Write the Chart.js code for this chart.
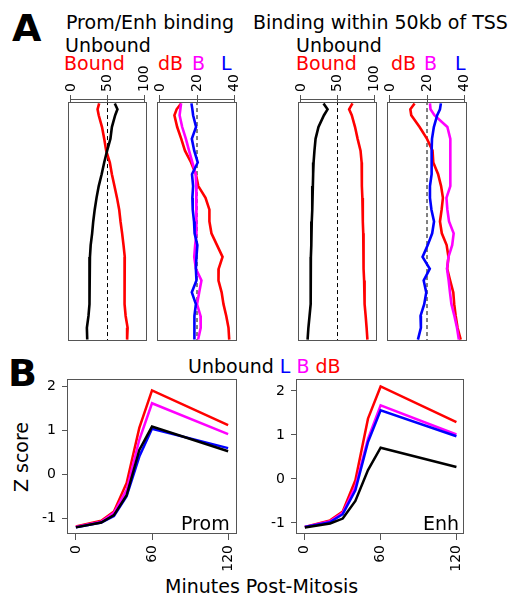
<!DOCTYPE html>
<html><head><meta charset="utf-8">
<script src="https://cdn.jsdelivr.net/npm/chart.js@4/dist/chart.umd.min.js"></script>
<style>
body{margin:0;background:#fff;width:512px;height:596px;position:relative;overflow:hidden;font-family:'DejaVu Sans',sans-serif;}
canvas{position:absolute;}
.t{position:absolute;font-size:19px;line-height:19px;white-space:nowrap;color:#000;}
.big{position:absolute;font-size:38px;line-height:38px;font-weight:bold;color:#000;}
.r{color:#ff0000}.m{color:#ff00ff}.b{color:#0000ff}
</style></head><body>
<div class="big" style="left:12px;top:9px">A</div>
<div class="t" style="left:66px;top:13px">Prom/Enh binding</div>
<div class="t" style="left:253px;top:13px">Binding within 50kb of TSS</div>
<div class="t" style="left:65px;top:36px">Unbound</div>
<div class="t r" style="left:64px;top:54px">Bound</div>
<div class="t r" style="left:158px;top:54px">dB</div>
<div class="t m" style="left:192px;top:54px">B</div>
<div class="t b" style="left:221px;top:54px">L</div>
<div class="t" style="left:296px;top:36px">Unbound</div>
<div class="t r" style="left:296px;top:54px">Bound</div>
<div class="t r" style="left:391px;top:54px">dB</div>
<div class="t m" style="left:424px;top:54px">B</div>
<div class="t b" style="left:455px;top:54px">L</div>
<div class="big" style="left:8px;top:354px">B</div>
<div class="t" style="left:188px;top:357px">Unbound <span class="b">L</span> <span class="m">B</span> <span class="r">dB</span></div>
<div class="t" style="left:21px;top:457px;transform:translate(-50%,-50%) rotate(-90deg)">Z score</div>
<div class="t" style="left:165px;top:577px">Minutes Post-Mitosis</div>

<canvas id="a1" width="99" height="293" style="left:58px;top:52px"></canvas>
<canvas id="a2" width="100" height="293" style="left:147px;top:52px"></canvas>
<canvas id="a3" width="99" height="293" style="left:288px;top:52px"></canvas>
<canvas id="a4" width="100" height="293" style="left:377px;top:52px"></canvas>
<canvas id="b1" width="217" height="222" style="left:30px;top:372px"></canvas>
<canvas id="b2" width="215" height="222" style="left:259px;top:372px"></canvas>
<div class="t" style="left:181px;top:514px">Prom</div>
<div class="t" style="left:423px;top:514px">Enh</div>
<script>
// ---------- Panel A data (rank position from top -> value) ----------
const ROW_POS = [0,0.025,0.05,0.1,0.15,0.2,0.25,0.3,0.35,0.4,0.45,0.5,0.55,0.6,0.65,0.7,0.75,0.8,0.85,0.9,0.95,1];
const PE_UNBOUND = [60,63.6,60.5,56,54,49.5,45.5,42,38,35,32.5,30.5,29,27,26,25.5,25,25.5,25.5,24,21.8,22.3];
const PE_BOUND   = [38.6,36.4,38,42.5,45.5,48.2,53.2,56,59.5,63,66,67.8,70,71.9,73.6,73.6,73.6,72.7,73.4,74.8,77.5,76.8];
const PE_DB = [11.4,9,7.8,9.3,11.5,13.5,16.8,19.4,20.7,24.6,26.7,26.7,27.8,30.8,33.8,31.7,31.6,33.3,34.3,35.8,37,37.4];
const PE_B  = [11.4,11,10.6,12,14,15.7,17.5,19.3,19.6,19.7,19.7,19.7,19.7,19,18.5,19.4,22.4,21.2,20,21.9,22,20.6];
const PE_L  = [17,17.5,17.9,19.5,17.2,18.5,20.4,17.3,17.9,17.5,17.7,18.4,18.7,20.2,19.7,19.4,19.7,17.2,19.4,18.6,18.4,18.8];
const TSS_UNBOUND = [30.9,36.4,31.5,24,20,18.5,17.3,16.7,16.3,15.7,15.3,14.8,14.4,14,13.6,13.6,13.6,13.3,12.8,11.8,10.2,9.1];
const TSS_BOUND   = [70.5,65.9,69.5,74,77.5,81.5,83,83.2,83.4,84,84.4,84.8,85.2,85.4,85.6,85.9,86.4,86.6,87.5,88.5,89.8,90.9];
const TSS_DB = [13.3,11,11.5,16,20,23,23.4,26,27.6,28.6,27.9,27,28,30.6,31.6,30.9,32.5,34.2,34.7,35.5,36.5,38.2];
const TSS_B  = [21.6,21.9,24,31,32.6,32.6,32.6,32.6,32.6,30.5,31,31.9,34.4,33.6,31.6,30.8,31.7,32.4,33.2,34.8,36.2,37.2];
const TSS_L  = [27.5,27,25.5,23.7,22.7,22.5,22.5,22.5,21.6,21.6,22.4,23.8,22.8,20.4,17.6,21.5,18.2,19.6,18.5,16.5,16.7,15.1];
const PCT_TICKS = [0,50,100];
const SIG_TICKS = [0,20,40];
const PCT_REF = 50;
const SIG_REF = 20;

// ---------- Panel B data ----------
const MINUTES = [0,20,30,40,50,60,120];
const PROM_UNBOUND = [-1.21,-1.1,-0.93,-0.48,0.55,1.08,0.52];
const PROM_L  = [-1.21,-1.1,-0.95,-0.5,0.4,1.03,0.59];
const PROM_B  = [-1.2,-1.08,-0.88,-0.36,0.78,1.61,0.91];
const PROM_DB = [-1.19,-1.06,-0.85,-0.2,1.05,1.9,1.11];
const ENH_UNBOUND = [-1.1,-1.01,-0.9,-0.5,0.2,0.71,0.27];
const ENH_L  = [-1.09,-0.98,-0.8,-0.26,0.84,1.56,0.97];
const ENH_B  = [-1.09,-0.96,-0.77,-0.18,0.91,1.67,1.01];
const ENH_DB = [-1.09,-0.94,-0.74,-0.03,1.37,2.1,1.29];
const MIN_TICKS = [0,60,120];
const Z_TICKS = [-1,0,1,2];

const RED='#ff0000', MAG='#ff00ff', BLUE='#0000ff', BLACK='#000000', GRAY='#555555';
const TICK_FONT = {family:"'DejaVu Sans', sans-serif", size:14, lineHeight:1.2};
Chart.defaults.font.family = "'DejaVu Sans', sans-serif";
Chart.defaults.font.size = 14;
Chart.defaults.color = '#000';

const boxPlugin = {
  id:'rbox',
  afterDraw(chart, args, opts){
    const a = chart.chartArea, ctx = chart.ctx;
    ctx.save();
    ctx.strokeStyle = GRAY; ctx.lineWidth = 1;
    ctx.strokeRect(Math.round(a.left)+0.5, Math.round(a.top)+0.5, Math.round(a.right-a.left)-1, Math.round(a.bottom-a.top)-1);
    if (opts && opts.topAxis) {
      const x = chart.scales.x, t = x.ticks;
      const y = Math.round(a.top) - 2.5;
      ctx.beginPath();
      ctx.moveTo(x.getPixelForValue(t[0].value), y);
      ctx.lineTo(x.getPixelForValue(t[t.length-1].value), y);
      ctx.stroke();
    }
    ctx.restore();
  }
};

function fixTicks(vals){ return s => { s.ticks = vals.map(v => ({value:v})); }; }

function makeA(id, min, max, tickVals, ref, series){
  const ds = series.map(s => ({
    data: s.vals.map((v,i) => ({x:v, y:ROW_POS[i]})),
    borderColor: s.color, borderWidth: 2.6, pointRadius: 0, showLine: true, fill:false
  }));
  ds.push({
    data: [{x:ref, y:-0.01},{x:ref, y:1.01}],
    borderColor: BLACK, borderWidth: 1, borderDash:[4,3], pointRadius:0, showLine:true
  });
  new Chart(document.getElementById(id), {
    type:'scatter',
    data:{datasets: ds},
    plugins:[boxPlugin],
    options:{
      responsive:false, animation:false, devicePixelRatio:1,
      layout:{padding:{left:10,right:10,top:0,bottom:4}},
      plugins:{legend:{display:false}, tooltip:{enabled:false}, rbox:{topAxis:true}},
      scales:{
        x:{type:'linear', position:'top', min, max,
           afterBuildTicks: fixTicks(tickVals),
           afterFit: s => { s.height = 50; s.paddingLeft = 0; s.paddingRight = 0; },
           ticks:{minRotation:90, maxRotation:90, autoSkip:false, padding:3, color:'#000',
                  font:TICK_FONT, labelOffset:16.8},
           grid:{drawOnChartArea:false, drawTicks:true, tickLength:7, color:GRAY},
           border:{display:false}},
        y:{type:'linear', display:false, min:-0.006, max:1.006, reverse:true}
      }
    }
  });
}

function makeB(id, series, ymin, ymax, xmax){
  const ds = series.map(s => ({
    data: s.vals.map((v,i) => ({x:MINUTES[i], y:v})),
    borderColor: s.color, borderWidth: 2.5, pointRadius: 0, showLine: true, fill:false
  }));
  new Chart(document.getElementById(id), {
    type:'scatter',
    data:{datasets: ds},
    plugins:[boxPlugin],
    options:{
      responsive:false, animation:false, devicePixelRatio:1,
      layout:{padding:{left:0,right:10,top:7,bottom:0}},
      plugins:{legend:{display:false}, tooltip:{enabled:false}, rbox:{topAxis:false}},
      scales:{
        x:{type:'linear', position:'bottom', min:-7, max:xmax,
           afterBuildTicks: fixTicks(MIN_TICKS),
           afterFit: s => { s.height = 60; s.paddingLeft = 0; s.paddingRight = 0; },
           ticks:{minRotation:90, maxRotation:90, autoSkip:false, padding:5, color:'#000', font:TICK_FONT},
           grid:{drawOnChartArea:false, drawTicks:true, tickLength:6, color:GRAY},
           border:{display:false}},
        y:{type:'linear', position:'left', min:ymin, max:ymax,
           afterBuildTicks: fixTicks(Z_TICKS),
           afterFit: s => { s.width = 37; s.paddingTop = 0; s.paddingBottom = 0; },
           ticks:{autoSkip:false, padding:6, color:'#000', font:TICK_FONT},
           grid:{drawOnChartArea:false, drawTicks:true, tickLength:5, color:GRAY},
           border:{display:false}}
      }
    }
  });
}

makeA('a1', -4, 104, PCT_TICKS, PCT_REF, [
  {vals:PE_UNBOUND, color:BLACK},{vals:PE_BOUND, color:RED}]);
makeA('a2', -1.6, 41.6, SIG_TICKS, SIG_REF, [
  {vals:PE_L, color:BLUE},{vals:PE_B, color:MAG},{vals:PE_DB, color:RED}]);
makeA('a3', -4, 104, PCT_TICKS, PCT_REF, [
  {vals:TSS_UNBOUND, color:BLACK},{vals:TSS_BOUND, color:RED}]);
makeA('a4', -1.6, 41.6, SIG_TICKS, SIG_REF, [
  {vals:TSS_L, color:BLUE},{vals:TSS_B, color:MAG},{vals:TSS_DB, color:RED}]);
makeB('b1', [
  {vals:PROM_UNBOUND, color:BLACK},{vals:PROM_L, color:BLUE},{vals:PROM_B, color:MAG},{vals:PROM_DB, color:RED}], -1.36, 2.16, 127);
makeB('b2', [
  {vals:ENH_UNBOUND, color:BLACK},{vals:ENH_L, color:BLUE},{vals:ENH_B, color:MAG},{vals:ENH_DB, color:RED}], -1.25, 2.27, 126);
</script>
</body></html>
